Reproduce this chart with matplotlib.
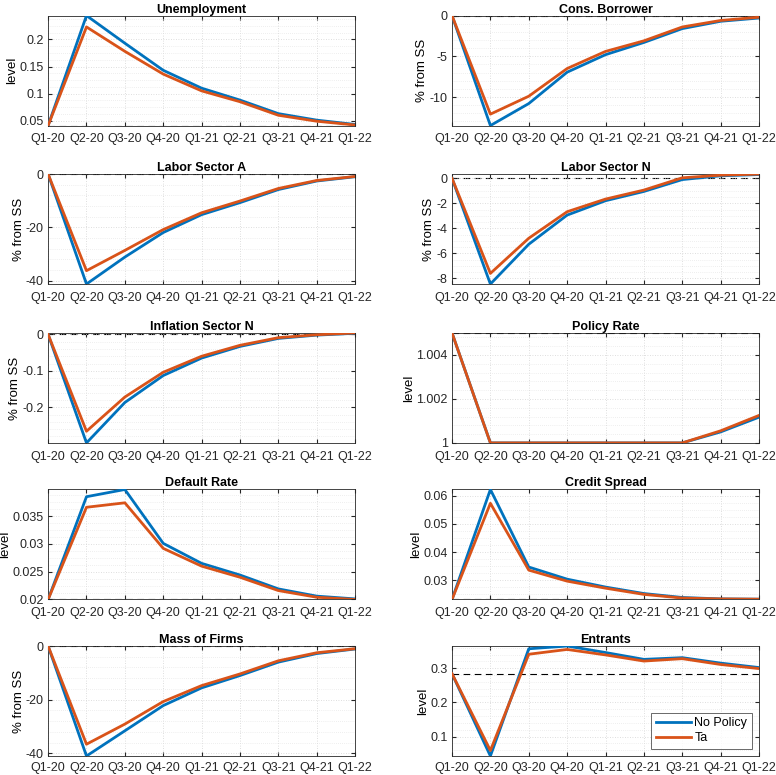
import matplotlib
matplotlib.use("Agg")
import matplotlib.pyplot as plt
from matplotlib.ticker import AutoMinorLocator, FuncFormatter

plt.rcParams["font.family"] = ["Liberation Sans", "DejaVu Sans"]

quarters = ["Q1-20", "Q2-20", "Q3-20", "Q4-20", "Q1-21", "Q2-21", "Q3-21", "Q4-21", "Q1-22"]

unemp_np = [0.041, 0.244, 0.193, 0.143, 0.110, 0.088, 0.063, 0.051, 0.043]
unemp_ta = [0.041, 0.223, 0.178, 0.136, 0.105, 0.085, 0.060, 0.049, 0.042]

borrow_np = [0, -13.5, -10.8, -6.95, -4.8, -3.3, -1.6, -0.7, -0.3]
borrow_ta = [0, -12.1, -9.9, -6.5, -4.4, -3.1, -1.4, -0.6, -0.2]

laborA_np = [0, -41.2, -31.1, -21.9, -15.2, -10.7, -5.8, -2.6, -1.0]
laborA_ta = [0, -36.2, -28.6, -20.8, -14.5, -10.1, -5.4, -2.4, -0.9]

laborN_np = [0, -8.45, -5.27, -2.94, -1.79, -1.05, -0.10, 0.20, 0.30]
laborN_ta = [0, -7.60, -4.79, -2.67, -1.66, -0.94, 0.04, 0.25, 0.34]

infl_np = [0, -0.298, -0.187, -0.113, -0.065, -0.033, -0.011, -0.002, 0.003]
infl_ta = [0, -0.266, -0.172, -0.104, -0.060, -0.030, -0.009, -0.001, 0.004]

policy_np = [1.005, 1.0, 1.0, 1.0, 1.0, 1.0, 1.0, 1.0005, 1.00117]
policy_ta = [1.005, 1.0, 1.0, 1.0, 1.0, 1.0, 1.0, 1.00055, 1.00125]

default_np = [0.0200, 0.0385, 0.0398, 0.0301, 0.0265, 0.0244, 0.0219, 0.0206, 0.0201]
default_ta = [0.0200, 0.0366, 0.0374, 0.0292, 0.0260, 0.0240, 0.0216, 0.0204, 0.0200]

spread_np = [0.0232, 0.0622, 0.0347, 0.0304, 0.0276, 0.0253, 0.0239, 0.0234, 0.0233]
spread_ta = [0.0232, 0.0573, 0.0336, 0.0297, 0.0272, 0.0250, 0.0237, 0.0234, 0.0233]

firms_np = [0, -41.0, -31.6, -22.2, -15.6, -11.0, -6.0, -2.8, -1.1]
firms_ta = [0, -36.6, -29.1, -20.7, -14.75, -10.4, -5.5, -2.5, -1.0]

entr_np = [0.284, 0.043, 0.357, 0.365, 0.346, 0.326, 0.331, 0.315, 0.302]
entr_ta = [0.284, 0.059, 0.341, 0.355, 0.339, 0.321, 0.328, 0.311, 0.299]

panels = [
    ("Unemployment", "level", unemp_np, unemp_ta, [0.05, 0.1, 0.15, 0.2]),
    ("Cons. Borrower", "% from SS", borrow_np, borrow_ta, [-10, -5, 0]),
    ("Labor Sector A", "% from SS", laborA_np, laborA_ta, [-40, -20, 0]),
    ("Labor Sector N", "% from SS", laborN_np, laborN_ta, [-8, -6, -4, -2, 0]),
    ("Inflation Sector N", "% from SS", infl_np, infl_ta, [-0.2, -0.1, 0]),
    ("Policy Rate", "level", policy_np, policy_ta, [1.0, 1.002, 1.004]),
    ("Default Rate", "level", default_np, default_ta, [0.02, 0.025, 0.03, 0.035]),
    ("Credit Spread", "level", spread_np, spread_ta, [0.03, 0.04, 0.05, 0.06]),
    ("Mass of Firms", "% from SS", firms_np, firms_ta, [-40, -20, 0]),
    ("Entrants", "level", entr_np, entr_ta, [0.1, 0.2, 0.3]),
]

BLUE = "#0072BD"
ORANGE = "#D95319"
DARK = "#262626"

fig = plt.figure(figsize=(7.76, 7.75), dpi=100)
lefts = [0.062, 0.5825]
bottoms = [0.838, 0.6335, 0.4285, 0.2265, 0.0245]
w, h = 0.3956, 0.1419

x = list(range(len(quarters)))
for i, (title, ylab, y_np, y_ta, yticks) in enumerate(panels):
    ax = fig.add_axes([lefts[i % 2], bottoms[i // 2], w, h])
    ss = 0 if ylab.startswith("%") else y_np[0]
    ax.axhline(ss, color="k", ls=(0, (6, 4)), lw=0.8, zorder=1)
    ax.plot(x, y_np, color=BLUE, lw=2.0, label="No Policy", zorder=3)
    ax.plot(x, y_ta, color=ORANGE, lw=2.0, label="Ta", zorder=4)
    lo = min(min(y_np), min(y_ta))
    hi = max(max(y_np), max(y_ta))
    ax.set_xlim(0, len(quarters) - 1)
    ax.set_ylim(lo, hi)
    ax.set_xticks(x)
    ax.set_xticklabels(quarters)
    ax.set_yticks(yticks)
    ax.yaxis.set_major_formatter(FuncFormatter(lambda v, p: f"{v:g}"))
    ax.yaxis.set_minor_locator(AutoMinorLocator(5 if len(yticks) < 4 else 4))
    ax.grid(which="major", color="#d4d4d4", lw=0.6, ls=(0, (1, 2)))
    ax.grid(which="minor", axis="y", color="#e0e0e0", lw=0.5, ls=(0, (1, 2)))
    ax.tick_params(which="both", direction="in", labelsize=9, length=3,
                   top=True, right=True, colors=DARK)
    ax.tick_params(axis="x", pad=4 if i >= 8 else 5.5)
    ax.tick_params(axis="y", pad=3)
    ax.tick_params(which="minor", length=0)
    for s in ax.spines.values():
        s.set_color(DARK)
        s.set_linewidth(0.6)
    ax.set_title(title, fontsize=9, fontweight="bold", pad=2)
    ax.set_ylabel(ylab, fontsize=9.5, labelpad=1)
    if title == "Entrants":
        leg = ax.legend(loc="lower right", fontsize=9, frameon=True, fancybox=False,
                        handlelength=2.8, borderpad=0.35, labelspacing=0.25,
                        handletextpad=0.3, borderaxespad=0.6)
        leg.get_frame().set_edgecolor(DARK)
        leg.get_frame().set_linewidth(0.6)

fig.savefig("out.png", dpi=100)
